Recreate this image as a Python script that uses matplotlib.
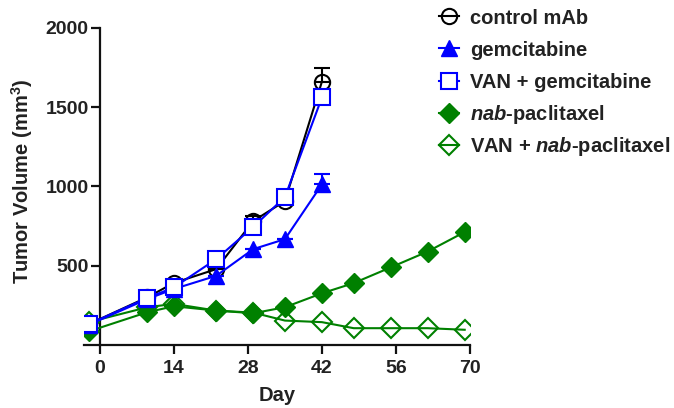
import matplotlib
matplotlib.use("Agg")
import matplotlib.pyplot as plt
from matplotlib.lines import Line2D

plt.rcParams['font.family'] = ['Liberation Sans', 'DejaVu Sans']
plt.rcParams['font.weight'] = 'bold'
plt.rcParams['mathtext.fontset'] = 'custom'
plt.rcParams['mathtext.it'] = 'Liberation Sans:italic:bold'
plt.rcParams['mathtext.bf'] = 'Liberation Sans:bold'
plt.rcParams['mathtext.rm'] = 'Liberation Sans:bold'

days_a = [-2, 9, 14, 22, 29, 35, 42]
control = [134, 302, 392, 479, 782, 908, 1661]
gem = [130, 291, 354, 437, 605, 668, 1013]
van_gem = [134, 298, 364, 542, 745, 933, 1561]

days_b = [-2, 9, 14, 22, 29, 35, 42, 48, 55, 62, 69]
nab = [88, 208, 245, 218, 201, 239, 327, 391, 490, 590, 713]
van_nab = [146, 239, 260, 218, 205, 155, 145, 107, 107, 107, 97]

# upper error bars
control_err = [0, 0, 0, 0, 30, 20, 84]
gem_err = [0, 0, 0, 0, 0, 0, 63]

labels = ['control mAb', 'gemcitabine', 'VAN + gemcitabine',
          r'$\it{nab}$-paclitaxel', r'VAN + $\it{nab}$-paclitaxel']

fig = plt.figure(figsize=(6.74, 4.08), dpi=100)
ax = fig.add_axes([84/674, 0.154, (470-84)/674, 0.778])

blue = '#0000ff'
green = '#008000'
ink = '#222222'

ax.errorbar(days_a, control, yerr=[[0]*len(control), control_err], color='black',
            lw=1.5, capsize=6, capthick=1.5, marker='o', ms=11, mfc='none', mec='black', mew=1.5,
            zorder=3)
ax.errorbar(days_a, gem, yerr=[[0]*len(gem), gem_err], color=blue,
            lw=1.5, capsize=6, capthick=1.5, marker='^', ms=12, mfc=blue, mec=blue,
            zorder=4)
ax.plot(days_a, van_gem, color=blue, lw=1.5, marker='s', ms=12, mfc='white', mec=blue, mew=1.5,
        zorder=5)
ax.plot(days_b, nab, color=green, lw=1.5, marker='D', ms=10, mfc=green, mec=green,
        zorder=4)
ax.plot(days_b, van_nab, color=green, lw=1.5, marker='D', ms=10, mfc='none', mec=green, mew=1.5,
        zorder=3)

ax.set_xlim(-3, 70)
ax.set_ylim(0, 2000)
ax.spines['top'].set_visible(False)
ax.spines['right'].set_visible(False)
ax.spines['left'].set_position(('data', 0))
for s in ['left', 'bottom']:
    ax.spines[s].set_linewidth(1.6)
    ax.spines[s].set_color('#111111')
ax.set_xticks([0, 14, 28, 42, 56, 70])
ax.set_yticks([500, 1000, 1500, 2000])
ax.tick_params(axis='both', direction='out', length=6.5, width=1.6, labelsize=14,
               colors='#111111', labelcolor=ink)
ax.tick_params(axis='y', pad=1.5)
ax.tick_params(axis='x', pad=4)
for t in ax.get_xticklabels() + ax.get_yticklabels():
    t.set_fontweight('bold')

ax.set_xlabel('Day', fontsize=14.5, fontweight='bold', color=ink, labelpad=7)
fig.text(0.032, 0.556, 'Tumor Volume (mm$^{3}$)', rotation=90, ha='center', va='center',
         fontsize=14.5, fontweight='bold', color=ink)

handles = [
    Line2D([], [], color='black', lw=1.5, marker='o', ms=11, mfc='none', mec='black', mew=1.5),
    Line2D([], [], color=blue, lw=1.5, marker='^', ms=12, mfc=blue, mec=blue),
    Line2D([], [], color=blue, lw=1.5, marker='s', ms=12, mfc='white', mec=blue, mew=1.5),
    Line2D([], [], color=green, lw=1.5, marker='D', ms=10, mfc=green, mec=green),
    Line2D([], [], color=green, lw=1.5, marker='D', ms=10, mfc='none', mec=green, mew=1.5),
]
entry_y = [18, 50, 83, 115, 147]
for h, lab, yy in zip(handles, labels, entry_y):
    leg = fig.legend([h], [lab], loc='center left', bbox_to_anchor=(439/674, 1 - yy/408),
                     frameon=False, fontsize=14.5, handlelength=1.0, handletextpad=0.55,
                     borderaxespad=0, borderpad=0)
    for t in leg.get_texts():
        t.set_color(ink)
        t.set_fontweight('bold')

fig.savefig('out.png', dpi=100)
